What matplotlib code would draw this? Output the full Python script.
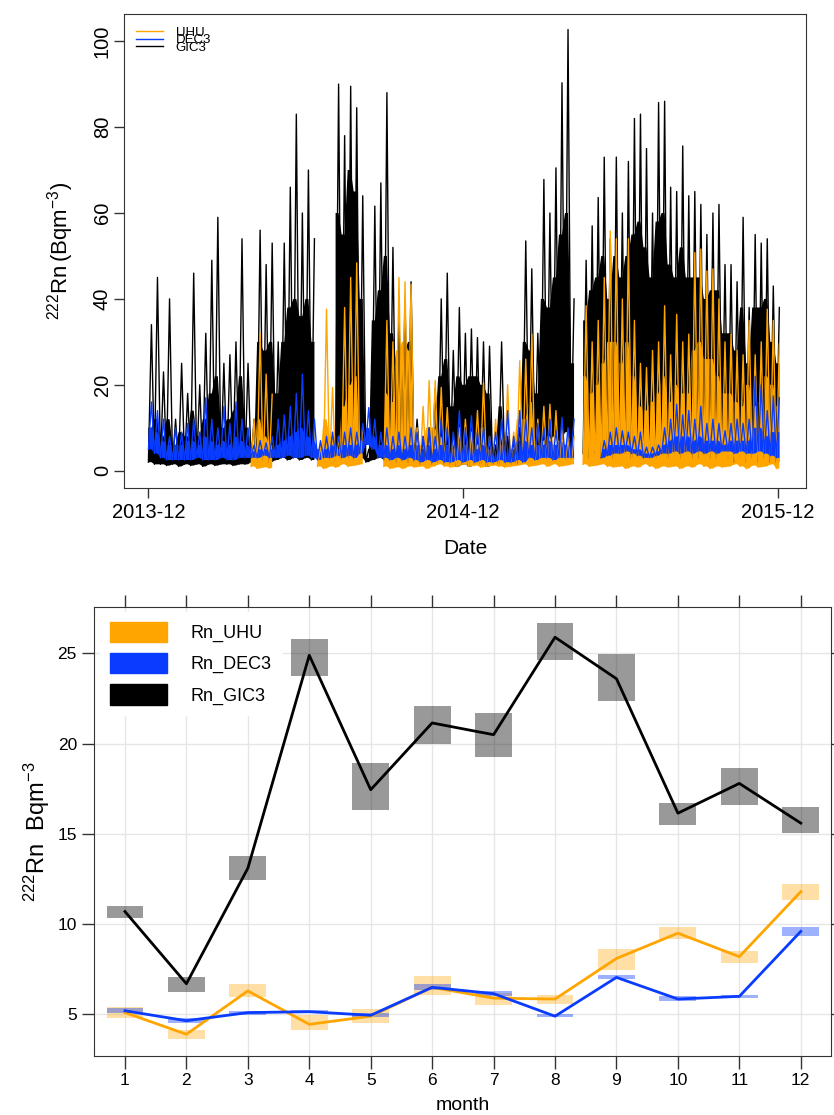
import numpy as np
import matplotlib
matplotlib.use("Agg")
import matplotlib.pyplot as plt
import matplotlib.dates as mdates
from matplotlib.patches import Patch

plt.rcParams['font.family'] = ['Liberation Sans', 'DejaVu Sans']
plt.rcParams['mathtext.fontset'] = 'custom'
plt.rcParams['mathtext.rm'] = 'Liberation Sans'
plt.rcParams['mathtext.it'] = 'Liberation Sans:italic'

nan = np.nan
ORANGE = "#FFA500"
BLUE = "#0A3CFF"

# ---- top panel: weekly readings of the hourly series (from 2013-12-01) ----
# hi = weekly peak, body = top of the dense mass, lo = weekly floor
start_date = np.datetime64('2013-12-01')
tick_dates = ['2013-12-01', '2014-12-01', '2015-12-01']

gic3_hi = [34, 45, 23, 40, 12, 25, 18, 46, 20, 32,
           49, 59, 25, 27, 30, 54, 25, 12, 56, 48,
           53, 30, 53, 66, 83, 60, 70, 54, nan, nan,
           nan, 90, 78, 89.5, 84.5, 64, 5, 61.6, 67, 88,
           52, 37, 40, 44, 12, 8, 10, 19, 40, 46,
           28, 38, 32, 33, 31, 30, 29, 6, 30, 8,
           7, 10, 53.5, 47, 32, 67.8, 60, 70.5, 90.3, 102.7,
           40, nan, 49, 57, 63.6, 73, 54, 73, 60, 72,
           82, 83, 75, 60, 85.7, 86, 66, 65, 75.6, 64,
           65, 62, 55, 60, 62, 48, 48, 44, 59, 38,
           55, 53, 54, 43, 38]
gic3_body = [10, 12, 8, 12, 6, 9, 8, 14, 8, 12,
             18, 22, 10, 12, 14, 22, 10, 4, 30, 28,
             30, 18, 30, 38, 40, 36, 40, 30, nan, nan,
             nan, 60, 55, 70, 65, 40, 3, 35, 42, 50,
             32, 25, 28, 30, 6, 5, 6, 10, 22, 26,
             15, 22, 20, 22, 22, 20, 18, 4, 15, 5,
             4, 6, 30, 28, 18, 40, 38, 45, 55, 60,
             25, nan, 35, 42, 45, 50, 40, 50, 45, 50,
             55, 58, 52, 45, 58, 60, 48, 45, 52, 45,
             45, 45, 40, 42, 42, 32, 32, 28, 38, 25,
             38, 38, 40, 30, 25]
gic3_lo = [2, 1.5, 1.5, 1.2, 1.5, 1, 1.5, 1.2, 1.5, 1,
           1.5, 1.2, 1.5, 1.5, 1.2, 1.5, 1.5, 2, 2, 2.5,
           2, 2.5, 3, 2.5, 3, 2.5, 3, 2.5, nan, nan,
           nan, 3, 4, 3, 4, 3, 2, 2.5, 3, 2.5,
           3, 2, 2.5, 2, 2, 1.5, 2, 1.5, 2, 1.5,
           1.5, 1, 1.5, 1, 1.5, 1.5, 1, 1.5, 1.5, 1.5,
           1.5, 1.5, 3, 3, 3, 5, 6, 8, 7, 9,
           5, nan, 4, 3, 4, 3, 4, 3, 5, 4,
           3, 4, 3, 5, 3, 4, 3, 4, 3, 4,
           3, 3, 4, 3, 3, 4, 3, 2, 3, 2,
           3, 2, 3, 2, 2]

uhu_hi = [nan] * 17 + [
    12, 32, 22.5, 17.8, nan, nan, nan, nan, nan, nan,
    nan, 6, 37.6, 19.4, 8, 38, 45, 48.4, 10, nan,
    nan, nan, 35, 30, 45, 44, 43.4, 10, 15, 21,
    21, 19.4, 14.7, 8, 10, 12, 9, 14, 20.5, 8,
    12, 10, 20, 9, 25.6, 26, 31.8, 12, 15, 15.5,
    14, 10, 8, 8, nan, 38.4, 30, 35, 45, 55.8,
    54, 40, 54, 35, 25, 24, 28, 30, 38.4, 27,
    36.4, 30, 31.8, 50.8, 51.6, 46.5, 47, 40, 30, 31.8,
    28, 27, 35, 27, 30, 37.6, 35, 29.5]
uhu_body = [nan] * 17 + [
    4, 12, 8, 6, nan, nan, nan, nan, nan, nan,
    nan, 3, 12, 8, 4, 15, 20, 22, 5, nan,
    nan, nan, 18, 16, 28, 30, 28, 5, 6, 10,
    10, 8, 6, 4, 5, 6, 4, 6, 10, 4,
    5, 4, 9, 4, 12, 12, 16, 5, 7, 8,
    6, 5, 4, 4, nan, 22, 18, 20, 25, 30,
    30, 25, 30, 22, 15, 14, 16, 18, 22, 16,
    20, 18, 18, 28, 30, 26, 26, 22, 18, 18,
    16, 15, 20, 15, 16, 22, 20, 15]
uhu_lo = [nan] * 17 + [
    1, 0.5, 0.8, 0.6, nan, nan, nan, nan, nan, nan,
    nan, 1, 0.5, 1, 0.8, 1.5, 1, 1.2, 1.5, nan,
    nan, nan, 1, 0.5, 0.8, 0.5, 1, 0.8, 1, 0.5,
    1, 1.5, 1, 0.8, 1, 1.5, 1, 1.2, 0.8, 1,
    1.2, 1, 0.8, 1, 1.2, 1.5, 1, 1.2, 1.5, 1,
    1.5, 1, 1.2, 1.5, nan, 1.5, 1, 1.2, 1.5, 1,
    0.8, 1, 0.5, 1, 0.8, 1.5, 1, 0.5, 1, 0.8,
    1, 0.5, 1, 0.8, 1.5, 1, 0.5, 1, 0.8, 1,
    1.5, 1, 0.5, 1.2, 0.8, 1, 1.5, 0.5]

dec3_hi = [16, 14, 12, 8, 10, 9, 11, 12, 9, 17,
           12, 10, 15, 11, 16, 12, 10, 6, 7, 6.5,
           8, 12, 13, 15, 18, 22.5, 14, 12, 7, 8,
           9, 8, 9, 10, 9, 11, 14.7, 12, 9, 10,
           8, 9, 8, 10, 9, 8, 10, 8, 12, 10,
           9, 14, 10, 12.8, 9, 10, 8, 9, 12, 14,
           8, 14, 12, 10, 11, 10, 12, 9.3, 12.4, 10,
           12, nan, nan, nan, nan, 7, 9, 10, 9.3, 9,
           8, 9, 5.5, 5.5, 6, 10, 12, 15.5, 13, 14,
           12, 15, 11, 12, 11, 9.3, 11, 12, 11, 12,
           22, 20, 14, 17.4, 17]
dec3_body = [10, 9, 7, 6, 6, 6, 7, 7, 6, 8,
             7, 6, 7, 6, 8, 7, 6, 4.5, 5, 5,
             5, 6, 7, 8, 9, 10, 8, 7, 5, 5,
             6, 5, 6, 6, 6, 7, 10, 8, 6, 6,
             5, 6, 5, 6, 6, 5, 6, 5, 6, 6,
             5, 7, 6, 7, 5, 6, 5, 5, 6, 7,
             5, 7, 7, 6, 6, 6, 7, 6, 7, 6,
             7, nan, nan, nan, nan, 5, 6, 6, 6, 6,
             5, 5, 4, 4, 4.5, 6, 7, 8, 8, 8,
             7, 8, 7, 7, 7, 6, 7, 7, 7, 7,
             10, 10, 8, 9, 9]
dec3_lo = [5, 4, 3, 2.5, 2.5, 2.5, 2.5, 2.5, 3, 2.5,
           2.5, 2.5, 3, 2.5, 2.5, 3, 3, 3, 3, 3.5,
           3, 3, 3, 3.5, 3, 3, 3.5, 3, 2.5, 3,
           3, 3.5, 3, 3.5, 3, 4, 6, 5, 3, 3,
           2.5, 3, 2.5, 3, 2.5, 2, 2.5, 2, 2.5, 2,
           2, 2.5, 2, 2.5, 2, 2.5, 2, 2, 2.5, 2,
           2, 2.5, 2, 3, 2.5, 3, 3, 2.5, 3, 3,
           3, nan, nan, nan, nan, 3, 3.5, 4, 4, 4.5,
           4, 3.5, 3, 3, 3.5, 4, 4, 4.5, 4, 4.5,
           4, 4.5, 4, 4.5, 4, 4.5, 4.5, 4, 4.5, 4,
           4, 4.5, 4, 3.5, 3]

# ---- bottom panel: monthly means with confidence boxes ----
months = np.arange(1, 13)
gic3_mean = [10.7, 6.7, 13.1, 24.9, 17.45, 21.15, 20.5, 25.9, 23.6, 16.15, 17.8, 15.6]
gic3_low = [10.35, 6.25, 12.45, 23.75, 16.35, 20.0, 19.25, 24.65, 22.35, 15.5, 16.6, 15.05]
gic3_high = [11.0, 7.1, 13.8, 25.8, 18.95, 22.1, 21.7, 26.7, 24.95, 16.7, 18.65, 16.5]
uhu_mean = [5.1, 3.9, 6.3, 4.45, 4.9, 6.5, 5.9, 5.85, 8.1, 9.5, 8.2, 11.8]
uhu_low = [4.8, 3.65, 5.95, 4.15, 4.55, 6.05, 5.5, 5.6, 7.45, 9.2, 7.85, 11.35]
uhu_high = [5.4, 4.15, 6.7, 4.95, 5.3, 7.15, 6.2, 6.05, 8.65, 9.85, 8.5, 12.25]
dec3_mean = [5.2, 4.65, 5.1, 5.15, 4.95, 6.5, 6.15, 4.9, 7.05, 5.85, 6.0, 9.6]
dec3_low = [5.05, 4.5, 4.95, 5.05, 4.85, 6.35, 6.0, 4.85, 6.95, 5.75, 5.9, 9.35]
dec3_high = [5.35, 4.8, 5.2, 5.25, 5.05, 6.7, 6.3, 5.0, 7.2, 6.0, 6.1, 9.85]


def weekly_trace(lo, body, hi):
    # needle from the floor to the weekly peak, dense mass from floor to body
    lo = np.asarray(lo, float)
    body = np.asarray(body, float)
    hi = np.asarray(hi, float)
    n = len(hi)
    t = start_date + np.arange(n) * np.timedelta64(7, 'D')
    x = np.empty(2 * n, dtype='datetime64[h]')
    x[0::2] = t
    x[1::2] = t + np.timedelta64(84, 'h')
    y = np.empty(2 * n)
    y[0::2] = lo
    y[1::2] = hi
    return x, y, np.repeat(lo, 2), np.repeat(body, 2)


fig = plt.figure(figsize=(8.34, 11.15), dpi=100)

# ---------------- top panel ----------------
ax1 = fig.add_axes([0.149, 0.562, 0.817, 0.425])
for lo, body, hi, col, lab in [(gic3_lo, gic3_body, gic3_hi, 'black', 'GIC3'),
                               (uhu_lo, uhu_body, uhu_hi, ORANGE, 'UHU'),
                               (dec3_lo, dec3_body, dec3_hi, BLUE, 'DEC3')]:
    x, y, base, top = weekly_trace(lo, body, hi)
    ax1.fill_between(x, base, top, color=col, lw=0)
    ax1.plot(x, y, color=col, lw=1.0, label=lab)

t_first = np.datetime64(tick_dates[0])
t_last = np.datetime64(tick_dates[-1])
ax1.set_xlim(t_first - np.timedelta64(28, 'D'), t_last + np.timedelta64(32, 'D'))
ax1.set_ylim(-4.1, 106.2)
ax1.set_xticks([np.datetime64(d) for d in tick_dates])
ax1.xaxis.set_major_formatter(mdates.DateFormatter('%Y-%m'))
ax1.set_yticks([0, 20, 40, 60, 80, 100])
ax1.tick_params(direction='out', length=7, width=1, color='#333333', labelsize=14.5)
ax1.tick_params(axis='y', pad=2)
plt.setp(ax1.get_yticklabels(), rotation=90, va='center')
for s in ax1.spines.values():
    s.set_color('#333333')
ax1.set_xlabel('Date', fontsize=15, labelpad=12)
ax1.set_ylabel(r'$^{222}$Rn$\,$(Bqm$^{-3}$)', fontsize=16, labelpad=12)

h, l = ax1.get_legend_handles_labels()
order = [1, 2, 0]
ax1.legend([h[i] for i in order], [l[i] for i in order], loc='upper left',
           frameon=False, fontsize=9.5, labelspacing=-0.35, handlelength=2.0,
           handletextpad=1.0, borderpad=0.4, borderaxespad=0.5)

# ---------------- bottom panel ----------------
ax2 = fig.add_axes([0.113, 0.053, 0.884, 0.403])
ax2.set_axisbelow(True)
ax2.grid(True, color='#E6E6E6', lw=1)
bw = 0.6
ax2.bar(months, np.subtract(gic3_high, gic3_low), bottom=gic3_low, width=bw,
        color='black', alpha=0.4, lw=0)
ax2.bar(months, np.subtract(uhu_high, uhu_low), bottom=uhu_low, width=bw,
        color=ORANGE, alpha=0.35, lw=0)
ax2.bar(months, np.subtract(dec3_high, dec3_low), bottom=dec3_low, width=bw,
        color=BLUE, alpha=0.4, lw=0)
ax2.plot(months, uhu_mean, color=ORANGE, lw=2)
ax2.plot(months, dec3_mean, color=BLUE, lw=2)
ax2.plot(months, gic3_mean, color='black', lw=2)

ax2.set_xlim(0.5, 12.5)
ax2.set_ylim(2.7, 27.6)
ax2.set_xticks(months)
ax2.set_yticks([5, 10, 15, 20, 25])
ax2.tick_params(direction='out', length=9, width=1, color='#333333', labelsize=12.5,
                top=True, right=True)
for s in ax2.spines.values():
    s.set_color('#333333')
ax2.set_xlabel('month', fontsize=14, labelpad=6)
ax2.set_ylabel(r'$^{222}$Rn  Bqm$^{-3}$', fontsize=17, labelpad=4)

leg_handles = [Patch(color=ORANGE), Patch(color=BLUE), Patch(color='black')]
leg = ax2.legend(leg_handles, ['Rn_UHU', 'Rn_DEC3', 'Rn_GIC3'], loc='upper left',
                 fontsize=13, handlelength=3.2, handleheight=1.35, labelspacing=0.6,
                 handletextpad=1.3, borderpad=0.55, borderaxespad=0.3,
                 frameon=True, fancybox=False, framealpha=1.0, edgecolor='white')

fig.savefig('out.png', dpi=100)
